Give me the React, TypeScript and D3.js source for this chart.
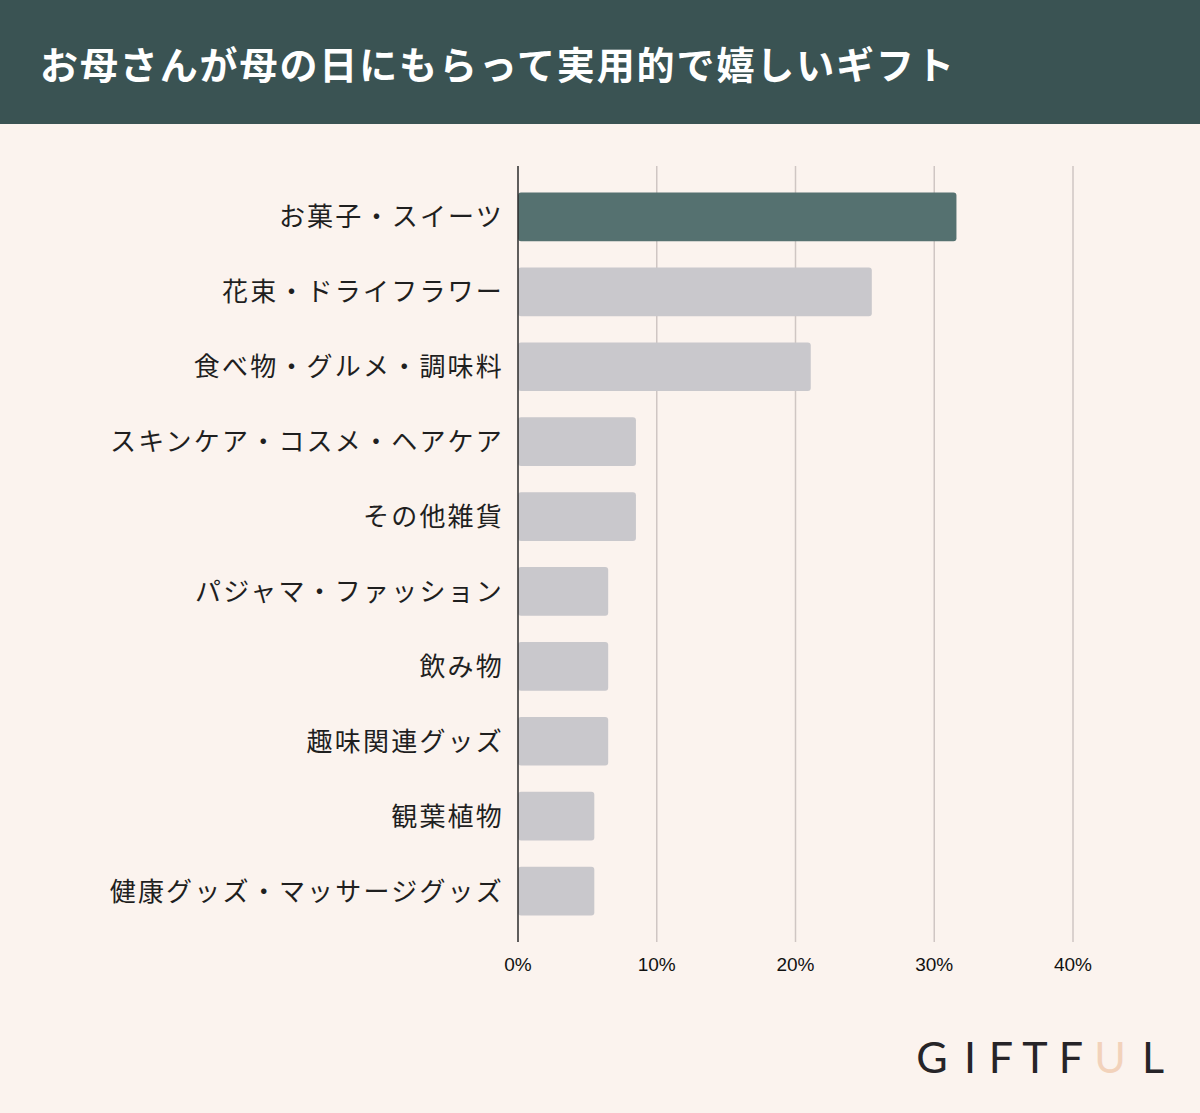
import React from 'react';
import * as d3 from 'd3';

const title = 'お母さんが母の日にもらって実用的で嬉しいギフト';

const categories = [
  'お菓子・スイーツ',
  '花束・ドライフラワー',
  '食べ物・グルメ・調味料',
  'スキンケア・コスメ・ヘアケア',
  'その他雑貨',
  'パジャマ・ファッション',
  '飲み物',
  '趣味関連グッズ',
  '観葉植物',
  '健康グッズ・マッサージグッズ',
];

const values = [31.6, 25.5, 21.1, 8.5, 8.5, 6.5, 6.5, 6.5, 5.5, 5.5];

const ticks = [0, 10, 20, 30, 40];

const logoLetters = ['G', 'I', 'F', 'T', 'F', 'U', 'L'];
// letter centres of the wordmark
const logoX = [932, 970, 1001, 1035, 1071, 1110, 1153];

const W = 1200;
const H = 1113;

const App = () => {
  const x = d3.scaleLinear().domain([0, 40]).range([518, 1073]);
  const y = d3
    .scaleBand<string>()
    .domain(categories)
    .range([179.5, 928.5])
    .paddingInner(0.35)
    .paddingOuter(0.175);

  const jp = '"Noto Sans CJK JP", "Noto Sans", sans-serif';

  return (
    <svg
      width={W}
      height={H}
      style={{ position: 'absolute', top: 0, left: 0, display: 'block' }}
    >
      <rect width={W} height={H} fill="#fbf3ee" />
      <rect width={W} height={124} fill="#3a5353" />
      <text
        x={40}
        y={62}
        dominantBaseline="central"
        fill="#ffffff"
        fontFamily={jp}
        fontWeight={700}
        fontSize={38}
        letterSpacing={1.9}
      >
        {title}
      </text>

      {/* grid */}
      {ticks.slice(1).map((t) => (
        <line
          key={t}
          x1={x(t)}
          x2={x(t)}
          y1={166}
          y2={942}
          stroke="#cfc6c3"
          strokeWidth={1.5}
        />
      ))}

      {/* bars */}
      {categories.map((c, i) => (
        <rect
          key={c}
          x={x(0)}
          y={y(c)}
          width={x(values[i]) - x(0)}
          height={y.bandwidth()}
          rx={3}
          fill={i === 0 ? '#557170' : '#c9c8cc'}
        />
      ))}

      {/* category labels */}
      {categories.map((c) => (
        <text
          key={c}
          x={504}
          y={y(c)! + y.bandwidth() / 2 - 2}
          textAnchor="end"
          dominantBaseline="central"
          fontFamily={jp}
          fontSize={26}
          letterSpacing={2.2}
          fill="#1f1f1f"
        >
          {c}
        </text>
      ))}

      {/* axis */}
      <line x1={x(0)} x2={x(0)} y1={166} y2={942} stroke="#2b2b2b" strokeWidth={1.5} />
      {ticks.map((t) => (
        <text
          key={t}
          x={x(t)}
          y={964}
          textAnchor="middle"
          dominantBaseline="central"
          fontFamily='"Liberation Sans", Arial, sans-serif'
          fontSize={19}
          fill="#111"
        >
          {t}%
        </text>
      ))}

      {/* logo */}
      <g fontFamily='Lato, "Open Sans", sans-serif' fontSize={43} fontWeight={400}>
        {logoLetters.map((l, i) => (
          <text
            key={i}
            x={logoX[i]}
            y={1073}
            textAnchor="middle"
            fill={l === 'U' ? '#f2d2bb' : '#262428'}
          >
            {l}
          </text>
        ))}
      </g>
    </svg>
  );
};

export default App;
